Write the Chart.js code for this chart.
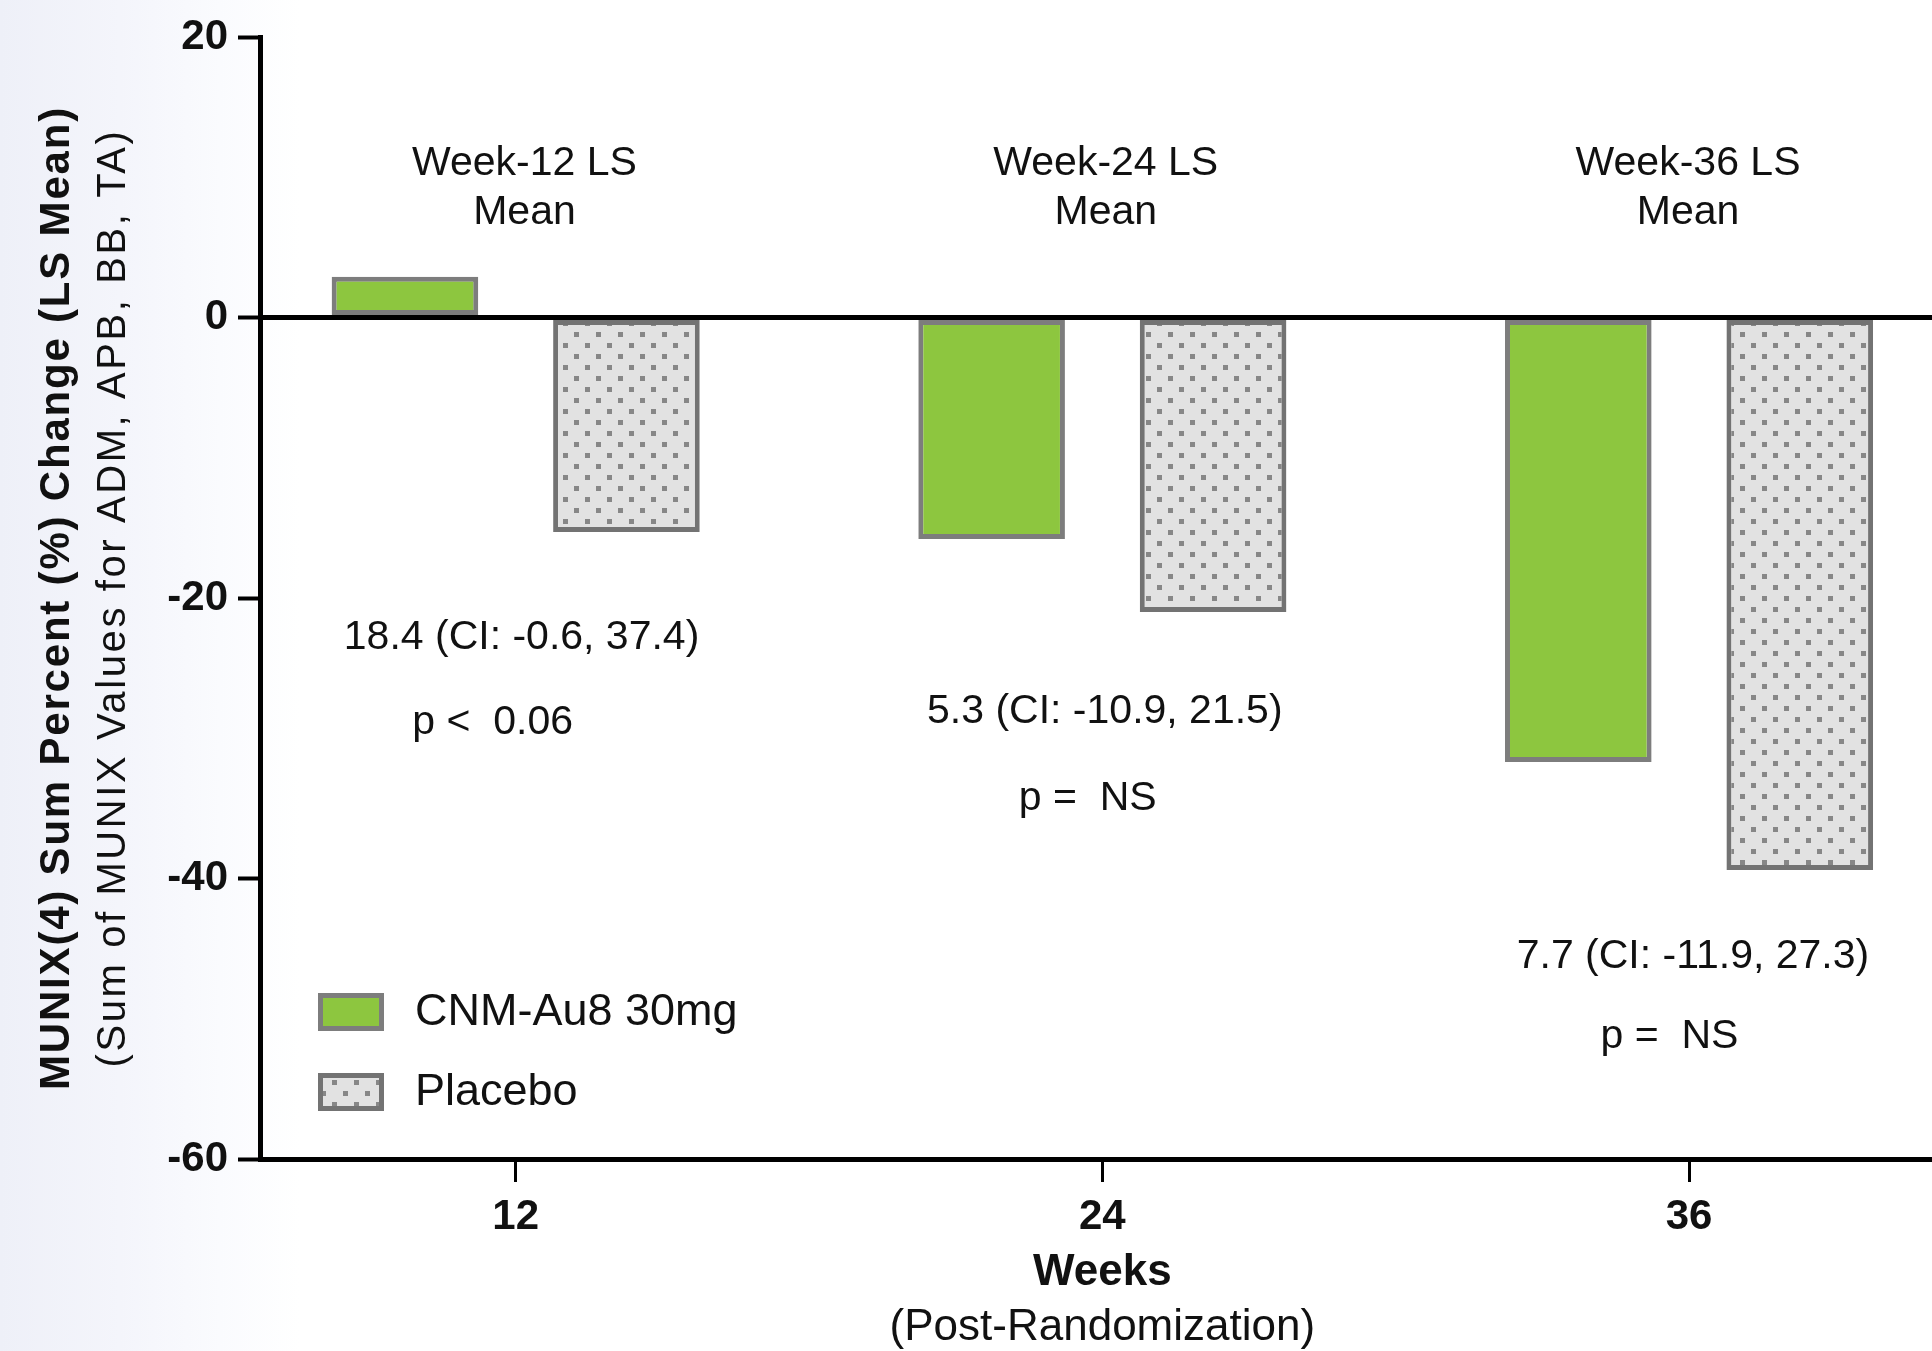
<!DOCTYPE html>
<html>
<head>
<meta charset="utf-8">
<script src="https://cdn.jsdelivr.net/npm/chart.js@4.4.1/dist/chart.umd.min.js"></script>
<style>
  body {
    margin: 0;
    background: linear-gradient(to right, #eef0f8 0px, #f4f5fb 120px, #fafbfe 220px, #ffffff 300px);
  }
  #wrap { width: 1932px; height: 1351px; position: relative; }
</style>
</head>
<body>
<div id="wrap"><canvas id="myChart"></canvas></div>
<script>
const ctx = document.getElementById("myChart");

const weeks = [12, 24, 36];
const seriesNames = ["CNM-Au8 30mg", "Placebo"];
const cnmValues = [2.9, -15.8, -31.7];
const placeboValues = [-15.3, -21.0, -39.4];
const yTicks = [20, 0, -20, -40, -60];
const headerLines = [
  ["Week-12 LS", "Mean"],
  ["Week-24 LS", "Mean"],
  ["Week-36 LS", "Mean"],
];
const diffLabels = ["18.4 (CI: -0.6, 37.4)", "5.3 (CI: -10.9, 21.5)", "7.7 (CI: -11.9, 27.3)"];
const pLabels = ["p <  0.06", "p =  NS", "p =  NS"];
const yTitle = ["MUNIX(4) Sum Percent (%) Change (LS Mean)", "(Sum of MUNIX Values for ADM, APB, BB, TA)"];
const xTitle = ["Weeks", "(Post-Randomization)"];

const FONT = "'Liberation Sans', Arial, Helvetica, sans-serif";

// dotted fill for the placebo bars
function dotPattern() {
  const tile = document.createElement("canvas");
  tile.width = 22;
  tile.height = 22;
  const t = tile.getContext("2d");
  t.fillStyle = "#e2e2e2";
  t.fillRect(0, 0, 22, 22);
  t.fillStyle = "#878787";
  t.fillRect(2, 2, 5, 5);
  t.fillRect(13, 13, 5, 5);
  return t.createPattern(tile, "repeat");
}
const placeboFill = dotPattern();

// text placed in data coordinates
const notes = {
  id: "notes",
  afterDraw(chart, args, opts) {
    const c = chart.ctx;
    const xs = chart.scales.x;
    const ys = chart.scales.y;
    c.save();
    c.fillStyle = "#111";
    c.textAlign = "center";
    c.textBaseline = "middle";

    c.font = "41px " + FONT;
    headerLines.forEach((lines, i) => {
      const x = xs.getPixelForValue(weeks[i] + opts.headerDx[i]);
      const y = ys.getPixelForValue(opts.headerY);
      lines.forEach((t, j) => c.fillText(t, x, y + j * 49));
    });

    diffLabels.forEach((t, i) => {
      c.fillText(t, xs.getPixelForValue(weeks[i] + opts.diffDx[i]), ys.getPixelForValue(opts.diffY[i]));
    });
    pLabels.forEach((t, i) => {
      c.fillText(t, xs.getPixelForValue(weeks[i] + opts.pDx[i]), ys.getPixelForValue(opts.pY[i]));
    });

    // y axis title, two lines
    const midY = (chart.chartArea.top + chart.chartArea.bottom) / 2;
    c.save();
    c.translate(57, midY);
    c.rotate(-Math.PI / 2);
    c.font = "bold 42px " + FONT;
    if ("letterSpacing" in c) c.letterSpacing = "1.8px";
    c.fillText(yTitle[0], 0, 0);
    c.font = "40px " + FONT;
    if ("letterSpacing" in c) c.letterSpacing = "2.6px";
    c.fillText(yTitle[1], 0, 57);
    c.restore();

    // x axis title
    const cx = xs.getPixelForValue(24);
    c.font = "bold 44px " + FONT;
    c.fillText(xTitle[0], cx, 1273);
    c.font = "44px " + FONT;
    c.fillText(xTitle[1], cx, 1328);

    // legend inside the plot
    c.textAlign = "left";
    c.font = "45px " + FONT;
    chart.data.datasets.forEach((ds, i) => {
      const bx = chart.chartArea.left + 58;
      const by = 993 + i * 80;
      c.fillStyle = ds.backgroundColor;
      c.fillRect(bx, by, 66, 38);
      c.strokeStyle = ds.borderColor;
      c.lineWidth = 5;
      c.strokeRect(bx + 2.5, by + 2.5, 61, 33);
      c.fillStyle = "#111";
      c.fillText(ds.label, bx + 97, by + 20);
    });
    c.restore();
  },
};

const myChart = new Chart(ctx, {
  type: "bar",
  data: {
    datasets: [
      {
        label: seriesNames[0],
        data: cnmValues.map((v, i) => ({ x: weeks[i], y: v })),
        backgroundColor: "#8dc63f",
        borderColor: "#7d7d7d",
        borderWidth: 5,
        borderSkipped: false,
      },
      {
        label: seriesNames[1],
        data: placeboValues.map((v, i) => ({ x: weeks[i], y: v })),
        backgroundColor: placeboFill,
        borderColor: "#737373",
        borderWidth: 5,
        borderSkipped: false,
      },
    ],
  },
  options: {
    responsive: true,
    maintainAspectRatio: false,
    animation: false,
    categoryPercentage: 0.755,
    barPercentage: 0.662,
    layout: { padding: { top: 37, left: 0, right: 0, bottom: 0 } },
    plugins: {
      legend: { display: false },
      tooltip: { enabled: false },
      notes: {
        headerY: 11.0,
        headerDx: [0.18, 0.07, -0.02],
        diffY: [-22.85, -28.1, -45.6],
        pY: [-28.9, -34.3, -51.3],
        diffDx: [0.12, 0.05, 0.08],
        pDx: [-0.47, -0.3, -0.4],
      },
    },
    scales: {
      x: {
        type: "linear",
        offset: false,
        min: 6.77,
        max: 40.97,
        afterBuildTicks: (scale) => {
          scale.ticks = weeks.map((v) => ({ value: v }));
        },
        afterFit: (scale) => {
          scale.height = 192;
        },
        border: { display: true, color: "#000", width: 5 },
        grid: {
          offset: false,
          drawOnChartArea: false,
          drawTicks: true,
          tickLength: 23,
          tickWidth: 3,
          tickColor: "#000",
        },
        ticks: {
          color: "#111",
          padding: 10,
          font: { family: FONT, size: 42, weight: "bold" },
          callback: (v) => String(v),
        },
      },
      y: {
        min: -60,
        max: 20,
        z: 1,
        afterBuildTicks: (scale) => {
          scale.ticks = yTicks.map((v) => ({ value: v }));
        },
        afterFit: (scale) => {
          scale.width = 260;
        },
        border: { display: true, color: "#000", width: 5 },
        grid: {
          color: (c) => (c.tick && c.tick.value === 0 ? "#000" : "rgba(0,0,0,0)"),
          lineWidth: 5,
          drawTicks: true,
          tickLength: 22,
          tickWidth: 4,
          tickColor: "#000",
        },
        ticks: {
          color: "#111",
          padding: 10,
          font: { family: FONT, size: 42, weight: "bold" },
        },
      },
    },
  },
  plugins: [notes],
});
</script>
</body>
</html>
